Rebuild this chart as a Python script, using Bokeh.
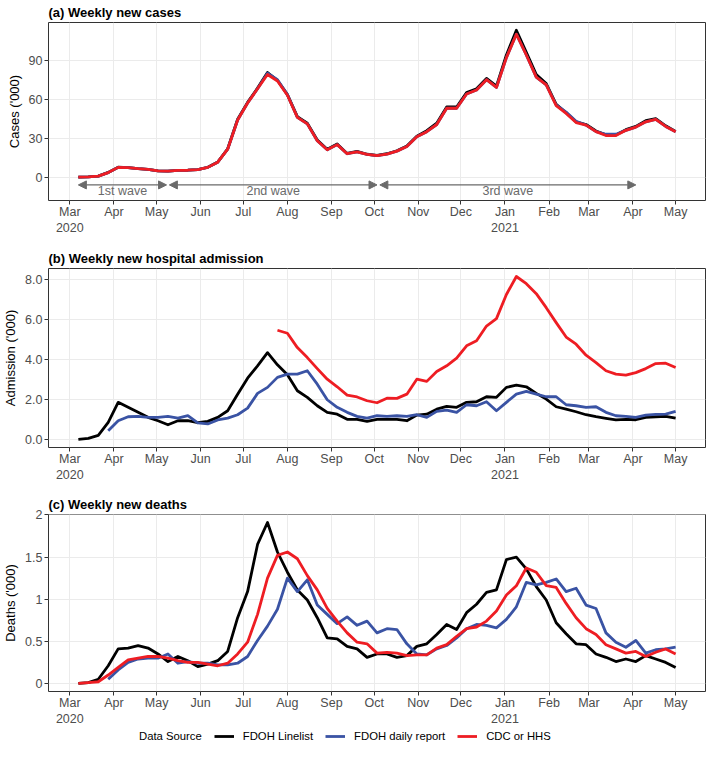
import math
import pandas as pd
from bokeh.plotting import figure
from bokeh.models import (Range1d, FixedTicker, Legend, LegendItem, Arrow,
                          NormalHead, ColumnDataSource)
from bokeh.layouts import column
from bokeh.embed import file_html
from bokeh.resources import INLINE
from bokeh.core.properties import value

NaN = float("nan")

# ---------------- data ----------------
first_week = "2020-03-07"
n_weeks = 61
weeks = pd.date_range(first_week, periods=n_weeks, freq="7D")

tick_dates = ["2020-03-01", "2020-04-01", "2020-05-01", "2020-06-01", "2020-07-01",
              "2020-08-01", "2020-09-01", "2020-10-01", "2020-11-01", "2020-12-01",
              "2021-01-01", "2021-02-01", "2021-03-01", "2021-04-01", "2021-05-01"]
tick_labels = ["Mar\n2020", "Apr", "May", "Jun", "Jul", "Aug", "Sep", "Oct", "Nov",
               "Dec", "Jan\n2021", "Feb", "Mar", "Apr", "May"]

# (a) weekly new cases ('000)
cases_linelist = [0, 0.2, 0.8, 3.6, 7.6, 7.3, 6.5, 6.0, 4.8, 4.6, 5.2, 5.3, 5.8, 7.6, 11.6,
                  21.8, 44.5, 57.5, 68.5, 80.5, 74.5, 63.5, 46.5, 41.5, 28.5, 21.5, 25.5, 18.2, 19.8,
                  17.6, 16.7, 18.0, 20.3, 24.0, 31.5, 35.8, 41.5, 54.0, 54.0, 65.0, 68.0, 76.0,
                  70.0, 94.0, 113.0, 96.0, 79.0, 72.0, 56.0, 49.5, 42.5, 40.5, 35.5, 32.5, 32.5,
                  36.5, 39.0, 43.5, 45.0, 39.5, 35.2]
cases_daily = [0, 0.2, 0.8, 3.5, 7.5, 7.3, 6.5, 6.0, 4.8, 4.6, 5.2, 5.3, 5.8, 7.5, 11.5,
               21.5, 44.0, 57.0, 68.0, 80.0, 75.0, 63.5, 46.0, 41.0, 28.0, 21.0, 25.0, 18.0, 19.5,
               17.5, 16.5, 17.7, 20.0, 23.5, 31.0, 35.0, 40.5, 53.0, 53.0, 64.0, 67.0, 75.0,
               69.0, 92.0, 110.0, 94.0, 77.0, 71.0, 55.5, 50.0, 43.0, 40.0, 35.0, 33.0, 33.0,
               36.0, 38.5, 42.6, 44.4, 39.0, 35.0]
cases_cdc = [0, 0.2, 0.8, 3.5, 7.5, 7.3, 6.5, 6.0, 4.8, 4.6, 5.2, 5.3, 5.8, 7.5, 11.5,
             21.5, 44.0, 57.0, 68.0, 79.0, 74.0, 63.0, 46.0, 41.0, 28.0, 21.0, 25.0, 18.0, 19.5,
             17.5, 16.5, 17.7, 20.0, 23.5, 31.0, 35.0, 40.5, 53.0, 53.0, 64.0, 67.0, 75.0,
             69.0, 92.0, 110.0, 94.0, 77.0, 71.0, 55.0, 49.0, 42.0, 40.0, 35.0, 32.0, 32.0,
             36.0, 38.5, 42.6, 44.4, 39.0, 35.0]

# (b) weekly new hospital admission ('000)
adm_linelist = [0, 0.05, 0.2, 0.85, 1.85, 1.6, 1.35, 1.1, 0.93, 0.73, 0.93, 0.93, 0.83, 0.9,
                1.1, 1.43, 2.26, 3.06, 3.68, 4.34, 3.73, 3.23, 2.43, 2.1, 1.68, 1.35, 1.26,
                1.0, 1.0, 0.9, 1.0, 1.0, 1.0, 0.93, 1.21, 1.26, 1.51, 1.65, 1.6, 1.85, 1.88,
                2.13, 2.1, 2.6, 2.71, 2.63, 2.3, 2.01, 1.63, 1.51, 1.38, 1.23, 1.13, 1.05, 0.97,
                1.0, 0.98, 1.1, 1.13, 1.15, 1.06]
adm_daily = [NaN, NaN, NaN, 0.43, 0.93, 1.13, 1.15, 1.1, 1.1, 1.15, 1.06, 1.18, 0.82, 0.77,
             0.97, 1.06, 1.23, 1.56, 2.3, 2.6, 3.1, 3.26, 3.26, 3.43, 2.76, 1.98, 1.6, 1.35,
             1.15, 1.06, 1.18, 1.15, 1.18, 1.15, 1.23, 1.1, 1.4, 1.46, 1.35, 1.73, 1.68, 1.88,
             1.43, 1.85, 2.26, 2.4, 2.26, 2.13, 2.13, 1.73, 1.68, 1.6, 1.63, 1.35, 1.18, 1.15,
             1.1, 1.21, 1.25, 1.26, 1.4]
adm_cdc = [NaN, NaN, NaN, NaN, NaN, NaN, NaN, NaN, NaN, NaN, NaN, NaN, NaN, NaN, NaN, NaN,
           NaN, NaN, NaN, NaN, 5.46, 5.31, 4.59, 4.09, 3.54, 3.01, 2.63, 2.21, 2.12, 1.93,
           1.83, 2.06, 2.05, 2.26, 3.01, 2.9, 3.39, 3.68, 4.06, 4.68, 4.93, 5.67, 6.04, 7.25,
           8.15, 7.79, 7.29, 6.59, 5.84, 5.12, 4.76, 4.21, 3.84, 3.43, 3.26, 3.21, 3.34, 3.54,
           3.79, 3.81, 3.59]

# (c) weekly new deaths ('000)
deaths_linelist = [0, 0.01, 0.05, 0.21, 0.41, 0.42, 0.45, 0.42, 0.35, 0.26, 0.32, 0.27, 0.2,
                   0.23, 0.27, 0.38, 0.78, 1.09, 1.65, 1.91, 1.56, 1.32, 1.11, 0.99, 0.78, 0.54,
                   0.53, 0.44, 0.41, 0.31, 0.35, 0.35, 0.31, 0.33, 0.44, 0.47, 0.58, 0.7, 0.64,
                   0.84, 0.94, 1.08, 1.11, 1.47, 1.5, 1.36, 1.15, 0.99, 0.72, 0.59, 0.47, 0.46,
                   0.35, 0.31, 0.26, 0.29, 0.26, 0.33, 0.29, 0.25, 0.19]
deaths_daily = [NaN, NaN, NaN, 0.05, 0.16, 0.25, 0.29, 0.3, 0.3, 0.35, 0.24, 0.26, 0.24, 0.24,
                0.22, 0.22, 0.24, 0.32, 0.51, 0.68, 0.88, 1.25, 1.09, 1.23, 0.93, 0.82, 0.71,
                0.79, 0.69, 0.74, 0.6, 0.65, 0.64, 0.47, 0.35, 0.34, 0.41, 0.45, 0.54, 0.65,
                0.7, 0.69, 0.66, 0.76, 0.91, 1.2, 1.17, 1.2, 1.24, 1.09, 1.13, 0.93, 0.89, 0.6,
                0.49, 0.43, 0.51, 0.36, 0.4, 0.41, 0.43]
deaths_cdc = [0, 0.01, 0.02, 0.1, 0.19, 0.28, 0.3, 0.32, 0.32, 0.3, 0.27, 0.25, 0.25, 0.23,
              0.21, 0.24, 0.35, 0.49, 0.82, 1.25, 1.52, 1.56, 1.48, 1.28, 1.11, 0.89, 0.74,
              0.6, 0.49, 0.47, 0.36, 0.37, 0.36, 0.33, 0.34, 0.34, 0.42, 0.46, 0.56, 0.65,
              0.67, 0.74, 0.86, 1.05, 1.16, 1.37, 1.32, 1.16, 1.14, 0.95, 0.78, 0.65, 0.58,
              0.46, 0.41, 0.36, 0.38, 0.32, 0.37, 0.41, 0.35]

# epidemic waves annotated in panel (a)
wave_labels = ["1st wave", "2nd wave", "3rd wave"]
wave_starts = ["2020-03-07", "2020-05-10", "2020-10-05"]
wave_ends = ["2020-05-08", "2020-10-03", "2021-04-03"]
wave_arrow_y = -6
wave_text_y = -11

legend_title = "Data Source"
series_names = ["FDOH Linelist", "FDOH daily report", "CDC or HHS"]
series_colors = ["#000000", "#3A53A4", "#EE1D23"]

# ---------------- styling helpers ----------------
FONT = "Liberation Sans"
GRID = "#EBEBEB"
BORDER = "#333333"
TICKTXT = "#4D4D4D"


def ms(d):
    return pd.Timestamp(d).timestamp() * 1000.0


x_start = ms("2020-02-15")
x_end = ms("2021-05-22")
tick_ms = [ms(d) for d in tick_dates]


def make_panel(title, ylabel, y_lo, y_hi, yticks, ylabels, height, bottom):
    p = figure(width=708, height=height, x_axis_type="datetime",
               x_range=Range1d(x_start, x_end), y_range=Range1d(y_lo, y_hi),
               output_backend="svg", toolbar_location=None,
               min_border_left=40, min_border_right=3, min_border_top=0,
               min_border_bottom=bottom)
    p.title.text = title
    p.title.text_font = FONT
    p.title.text_font_size = "13px"
    p.title.text_font_style = "bold"
    p.title.text_color = "#000000"
    p.title.align = "left"
    p.title.offset = 0
    p.title.standoff = 5
    p.outline_line_color = BORDER
    p.outline_line_width = 1
    p.background_fill_color = "white"
    p.border_fill_color = "white"

    p.xaxis.ticker = FixedTicker(ticks=tick_ms)
    p.xaxis.major_label_overrides = {t: l for t, l in zip(tick_ms, tick_labels)}
    p.yaxis.ticker = FixedTicker(ticks=yticks)
    p.yaxis.major_label_overrides = {t: l for t, l in zip(yticks, ylabels)}

    for ax in (p.xaxis[0], p.yaxis[0]):
        ax.axis_line_color = None
        ax.major_tick_line_color = BORDER
        ax.major_tick_in = 0
        ax.major_tick_out = 4
        ax.minor_tick_line_color = None
        ax.major_label_text_font = FONT
        ax.major_label_text_font_size = "12.5px"
        ax.major_label_text_color = TICKTXT
        ax.major_label_standoff = 2
    p.xaxis.major_label_standoff = 0
    p.yaxis.axis_label = ylabel
    p.yaxis.axis_label_text_font = FONT
    p.yaxis.axis_label_text_font_size = "13px"
    p.yaxis.axis_label_text_font_style = "normal"
    p.yaxis.axis_label_text_color = "#000000"
    p.yaxis.axis_label_standoff = 4

    p.xgrid.grid_line_color = GRID
    p.ygrid.grid_line_color = GRID
    p.xgrid.grid_line_width = 1
    p.ygrid.grid_line_width = 1
    return p


def add_lines(p, ys):
    rs = []
    for vals, color in zip(ys, series_colors):
        src = ColumnDataSource(dict(x=weeks, y=vals))
        r = p.line("x", "y", source=src, line_color=color, line_width=2.8,
                   line_join="round")
        rs.append(r)
    return rs


# ---------------- panel (a) ----------------
pa = make_panel("(a) Weekly new cases", "Cases ('000)", -18, 119,
                [0, 30, 60, 90], ["0", "30", "60", "90"], 246, 46)
add_lines(pa, [cases_linelist, cases_daily, cases_cdc])

WAVE_COLOR = "#6A6A6A"
for lab, s, e in zip(wave_labels, wave_starts, wave_ends):
    arr = Arrow(x_start=ms(s), y_start=wave_arrow_y, x_end=ms(e), y_end=wave_arrow_y,
                line_color=WAVE_COLOR, line_width=1.2,
                start=NormalHead(size=8, fill_color=WAVE_COLOR, line_color=WAVE_COLOR),
                end=NormalHead(size=8, fill_color=WAVE_COLOR, line_color=WAVE_COLOR))
    pa.add_layout(arr)
wave_mid = [pd.Timestamp(s) + (pd.Timestamp(e) - pd.Timestamp(s)) / 2
            for s, e in zip(wave_starts, wave_ends)]
pa.text(x=wave_mid, y=[wave_text_y] * len(wave_labels), text=wave_labels,
        text_font=value(FONT), text_font_size="12.5px", text_color=WAVE_COLOR,
        text_align="center", text_baseline="middle")

# ---------------- panel (b) ----------------
pb = make_panel("(b) Weekly new hospital admission", "Admission ('000)", -0.41, 8.55,
                [0, 2, 4, 6, 8], ["0.0", "2.0", "4.0", "6.0", "8.0"], 246, 45)
add_lines(pb, [adm_linelist, adm_daily, adm_cdc])

# ---------------- panel (c) ----------------
pc = make_panel("(c) Weekly new deaths", "Deaths ('000)", -0.0955, 2.005,
                [0, 0.5, 1, 1.5, 2], ["0", "0.5", "1", "1.5", "2"], 237, 30)
add_lines(pc, [deaths_linelist, deaths_daily, deaths_cdc])

# ---------------- legend strip ----------------
pl = figure(width=708, height=14, x_range=Range1d(0, 1), y_range=Range1d(0, 1),
            output_backend="svg", toolbar_location=None,
            x_axis_location=None, y_axis_location=None,
            min_border_left=40, min_border_right=3, min_border_top=0, min_border_bottom=0)
pl.outline_line_color = None
pl.xgrid.visible = False
pl.ygrid.visible = False
# legend-sample renderers: their points lie outside the strip's ranges, so only
# the legend samples are visible
off = dict(x=[5, 6], y=[5, 6])
dummy = pl.line(x=off["x"], y=off["y"], line_alpha=0)
items = [LegendItem(label=legend_title, renderers=[dummy])]
for n, c in zip(series_names, series_colors):
    r = pl.line(x=off["x"], y=off["y"], line_color=c, line_width=2.8)
    items.append(LegendItem(label=n, renderers=[r]))
legend = Legend(items=items, orientation="horizontal", location=(62, 0),
                label_text_font=FONT, label_text_font_size="11.3px",
                label_text_color="#000000", glyph_width=20, glyph_height=14,
                label_height=14, label_standoff=9, spacing=12, padding=0, margin=0,
                border_line_color=None, background_fill_color=None)
pl.add_layout(legend)

layout = column(pa, pb, pc, pl, spacing=0)
open("out.html", "w").write(file_html(layout, INLINE))
